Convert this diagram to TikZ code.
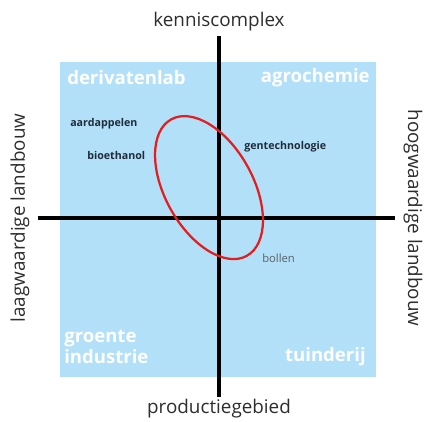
\documentclass[tikz,border=0pt]{standalone}
\usepackage{fontspec}
\setmainfont{Open Sans}
\usepackage{xcolor}
\usepackage{tikz}
\usetikzlibrary{arrows.meta,positioning,calc}
\definecolor{fieldblue}{RGB}{178,224,248}
\definecolor{ringred}{RGB}{226,30,30}
\definecolor{labelgray}{RGB}{45,45,45}
\definecolor{cropdark}{RGB}{32,44,58}
\definecolor{bulbgray}{RGB}{90,96,104}

\begin{document}
\begin{tikzpicture}[scale=1.0,>=Stealth,
    axislabel/.style={font=\fontsize{13.4}{15}\selectfont,text=labelgray,inner sep=1pt},
    quadlabel/.style={font=\fontsize{13.2}{14.5}\selectfont\bfseries,text=white,inner sep=0pt},
    crop/.style={font=\fontsize{7.6}{9}\selectfont\bfseries,text=cropdark,inner sep=0pt,anchor=west}]
  \useasboundingbox (-5.475,-5.075) rectangle (5.125,5.45);
  % field
  \fill[fieldblue] (-3.975,-3.975) rectangle (3.925,3.9);
  % quadrant names
  \node[quadlabel,anchor=west] (derlab) at (-3.8,3.5) {derivatenlab};
  \node[quadlabel,anchor=east] (agrochem) at (3.775,3.5) {agrochemie};
  \node[quadlabel,anchor=west,align=left] (groente) at (-3.875,-3.225) {groente\\industrie};
  \node[quadlabel,anchor=east] (tuinderij) at (3.675,-3.475) {tuinderij};
  % axis ends
  \coordinate (ntop) at (0,4.55);
  \coordinate (nbot) at (0,-4.475);
  \coordinate (wend) at (-4.525,0);
  \coordinate (eend) at (4.4,0);
  % axis
  \draw[line width=2.8pt] (ntop) -- (nbot);
  \draw[line width=2.8pt] (wend) -- (eend);
  \node[axislabel] (kennis) at (0,4.9) {kenniscomplex};
  \node[axislabel] (productie) at (0,-4.775) {productiegebied};
  \node[axislabel,rotate=90] (laag) at (-4.975,0) {laagwaardige landbouw};
  \node[axislabel,rotate=-90] (hoog) at (4.85,0) {hoogwaardige landbouw};
  % crops
  \node[crop] (aardap) at (-3.725,2.35) {aardappelen};
  \node[crop] (bioeth) at (-3.3,1.575) {bioethanol};
  \node[crop] (gentech) at (0.625,1.775) {gentechnologie};
  \node[crop,font=\fontsize{8}{9}\selectfont,text=bulbgray] (bollen) at (1.075,-1.0) {bollen};
  % ring
  \draw[ringred,line width=1.6pt,rotate around={119:(-0.25,0.76)}]
    (-0.25,0.76) ellipse (1.95 and 1.1);
\end{tikzpicture}
\end{document}
